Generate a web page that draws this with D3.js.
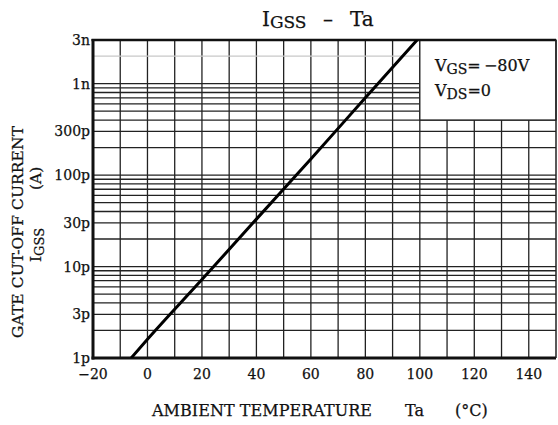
<!DOCTYPE html>
<html>
<head>
<meta charset="utf-8">
<script src="https://cdn.jsdelivr.net/npm/d3@7"></script>
<style>
  body { margin: 0; background: #fff; }
  text { font-family: "DejaVu Serif", "Liberation Serif", serif; fill: #111; stroke: #111; stroke-width: 0.25px; }
</style>
</head>
<body>
<div id="chart"></div>
<script>
// values
var xTicks = [-20, 0, 20, 40, 60, 80, 100, 120, 140];
var yTickValues = [1e-12, 3e-12, 1e-11, 3e-11, 1e-10, 3e-10, 1e-9, 3e-9];
var yTickLabels = ["1p", "3p", "10p", "30p", "100p", "300p", "1n", "3n"];
var tempC = [-6, 0, 20, 40, 60, 80, 99];
var igss = [1.0e-12, 1.6e-12, 7.2e-12, 3.3e-11, 1.5e-10, 7.0e-10, 3.0e-9];

var W = 558, H = 425;
var pLeft = 93, pRight = 556, pTop = 40, pBottom = 358;

var svg = d3.select("#chart")
      .append("svg")
      .attr("width", W)
      .attr("height", H);

var x = d3.scaleLinear().domain([-20, 150]).range([pLeft, pRight]);
var y = d3.scaleLog().domain([1e-12, 3e-9]).range([pBottom, pTop]);

// vertical grid, every 10 degrees
var vLines = d3.range(-10, 150, 10);
svg.selectAll("line.v")
   .data(vLines)
   .enter()
   .append("line")
   .attr("x1", function(d) { return x(d); })
   .attr("x2", function(d) { return x(d); })
   .attr("y1", pTop)
   .attr("y2", pBottom)
   .style("stroke", "#222")
   .style("stroke-width", 1.3);

// horizontal log grid 1..9 per decade
var hLines = [];
[1e-12, 1e-11, 1e-10, 1e-9].forEach(function(dec) {
  for (var m = 1; m <= 9; m++) {
    var v = dec * m;
    if (v > 1.01e-12 && v < 2.99e-9) hLines.push(v);
  }
});
svg.selectAll("line.h")
   .data(hLines)
   .enter()
   .append("line")
   .attr("x1", pLeft)
   .attr("x2", pRight)
   .attr("y1", function(d) { return y(d); })
   .attr("y2", function(d) { return y(d); })
   .style("stroke", function(d) { return d > 1.5e-9 ? "#c8c8c8" : "#222"; })
   .style("stroke-width", 1.3);

// condition box in the top right corner
svg.append("rect")
   .attr("x", x(100))
   .attr("y", y(3e-9))
   .attr("width", x(150) - x(100))
   .attr("height", y(4e-10) - y(3e-9))
   .style("fill", "#fff")
   .style("stroke", "#222")
   .style("stroke-width", 1.3);

var legend = svg.append("text")
   .attr("x", 435)
   .attr("y", 71)
   .style("font-size", "16px");
legend.append("tspan").text("V");
legend.append("tspan").attr("dy", 3).style("font-size", "14px").text("GS");
legend.append("tspan").attr("dy", -3).text("=\u2009\u221280V");

var legend2 = svg.append("text")
   .attr("x", 435)
   .attr("y", 96)
   .style("font-size", "16px");
legend2.append("tspan").text("V");
legend2.append("tspan").attr("dy", 3).style("font-size", "14px").text("DS");
legend2.append("tspan").attr("dy", -3).text("=0");

// frame
svg.append("line").attr("x1", pLeft).attr("x2", pLeft).attr("y1", pTop - 1).attr("y2", pBottom + 1.5)
   .style("stroke", "#111").style("stroke-width", 3);
svg.append("line").attr("x1", pLeft - 1.5).attr("x2", pRight).attr("y1", pBottom).attr("y2", pBottom)
   .style("stroke", "#111").style("stroke-width", 3);
svg.append("line").attr("x1", pLeft - 1.5).attr("x2", pRight).attr("y1", pTop).attr("y2", pTop)
   .style("stroke", "#111").style("stroke-width", 2.5);
svg.append("line").attr("x1", pRight).attr("x2", pRight).attr("y1", pTop).attr("y2", pBottom)
   .style("stroke", "#222").style("stroke-width", 1.5);

// curve
svg.append("clipPath").attr("id", "plotclip")
   .append("rect").attr("x", pLeft).attr("y", pTop).attr("width", pRight - pLeft).attr("height", pBottom - pTop);

var points = tempC.map(function(t, i) { return [t, igss[i]]; });
var line = d3.line()
   .x(function(d) { return x(d[0]); })
   .y(function(d) { return y(d[1]); })
   .curve(d3.curveMonotoneX);

svg.append("path")
   .datum(points)
   .attr("d", line)
   .attr("clip-path", "url(#plotclip)")
   .style("fill", "none")
   .style("stroke", "#000")
   .style("stroke-width", 3);

// tick labels
svg.selectAll("text.yt")
   .data(yTickValues)
   .enter()
   .append("text")
   .attr("x", pLeft - 3)
   .attr("y", function(d) { return y(d) + 5; })
   .attr("text-anchor", "end")
   .style("font-size", "14px")
   .text(function(d, i) { return yTickLabels[i]; });

svg.selectAll("text.xt")
   .data(xTicks)
   .enter()
   .append("text")
   .attr("x", function(d) { return x(d); })
   .attr("y", pBottom + 21)
   .attr("text-anchor", "middle")
   .style("font-size", "14px")
   .text(function(d) { return d < 0 ? "\u2212" + Math.abs(d) : d; });

// title
var title = svg.append("text")
   .attr("x", 262)
   .attr("y", 26)
   .style("font-size", "20px");
title.append("tspan").text("I");
title.append("tspan").attr("dy", 2).style("font-size", "17px").text("GSS");
svg.append("text").attr("x", 328).attr("y", 26).attr("text-anchor", "middle")
   .style("font-size", "20px").text("\u2013");
svg.append("text").attr("x", 350).attr("y", 26)
   .style("font-size", "20px").text("Ta");

// axis labels
svg.append("text")
   .attr("x", 152)
   .attr("y", 416)
   .attr("textLength", 220)
   .style("font-size", "16px")
   .text("AMBIENT TEMPERATURE");
svg.append("text").attr("x", 405).attr("y", 416)
   .style("font-size", "16px").text("Ta");
svg.append("text").attr("x", 455).attr("y", 416)
   .style("font-size", "16px").text("(\u00b0C)");

svg.append("text")
   .attr("transform", "translate(23,232) rotate(-90)")
   .attr("text-anchor", "middle")
   .attr("textLength", 212)
   .style("font-size", "15.5px")
   .text("GATE CUT-OFF CURRENT");

var ylab2 = svg.append("text")
   .attr("transform", "translate(41,262) rotate(-90)")
   .style("font-size", "15.5px");
ylab2.append("tspan").text("I");
ylab2.append("tspan").attr("dy", 3).style("font-size", "13px").text("GSS");
svg.append("text")
   .attr("transform", "translate(41,190) rotate(-90)")
   .style("font-size", "15.5px")
   .text("(A)");
</script>
</body>
</html>
